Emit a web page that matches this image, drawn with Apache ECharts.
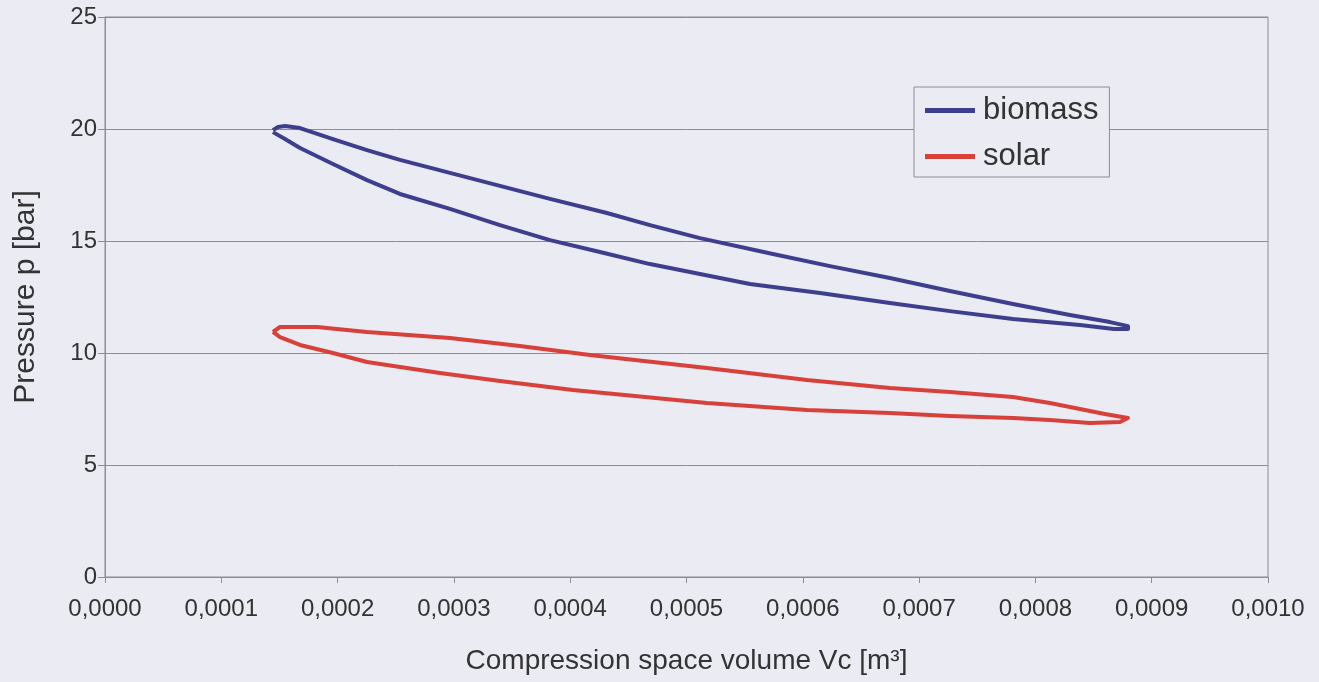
<!DOCTYPE html>
<html>
<head>
<meta charset="utf-8">
<script src="https://cdn.jsdelivr.net/npm/echarts@6/dist/echarts.min.js"></script>
<style>
html,body{margin:0;padding:0;background:#ebebf3;}
#c{width:1319px;height:682px;}
</style>
</head>
<body>
<div id="c"></div>
<script>
// x: compression space volume Vc [m³], y: pressure p [bar]
const biomassX = [1.444e-4,1.487e-4,1.548e-4,1.677e-4,1.960e-4,2.253e-4,2.536e-4,2.966e-4,3.396e-4,3.826e-4,4.316e-4,4.686e-4,5.116e-4,5.743e-4,6.234e-4,6.749e-4,7.265e-4,7.807e-4,8.297e-4,8.641e-4,8.796e-4,
  8.796e-4,8.676e-4,8.383e-4,7.807e-4,7.265e-4,6.749e-4,6.148e-4,5.546e-4,5.116e-4,4.686e-4,4.256e-4,3.826e-4,3.396e-4,2.966e-4,2.536e-4,2.253e-4,1.960e-4,1.677e-4,1.548e-4,1.444e-4];
const biomassY = [19.95,20.09,20.13,20.04,19.55,19.06,18.62,18.04,17.46,16.88,16.25,15.71,15.13,14.42,13.88,13.35,12.77,12.19,11.70,11.38,11.20,
  11.07,11.07,11.25,11.52,11.87,12.23,12.68,13.08,13.53,13.97,14.51,15.04,15.71,16.43,17.10,17.72,18.44,19.15,19.55,19.86];
const solarX = [1.444e-4,1.505e-4,1.823e-4,2.253e-4,2.966e-4,3.568e-4,4.170e-4,5.176e-4,6.036e-4,6.749e-4,7.265e-4,7.807e-4,8.125e-4,8.383e-4,8.598e-4,8.796e-4,
  8.727e-4,8.469e-4,8.125e-4,7.807e-4,7.265e-4,6.749e-4,6.036e-4,5.176e-4,4.024e-4,3.396e-4,2.880e-4,2.253e-4,1.960e-4,1.677e-4,1.505e-4,1.444e-4];
const solarY = [10.94,11.16,11.16,10.94,10.67,10.31,9.91,9.33,8.79,8.44,8.26,8.04,7.77,7.50,7.28,7.10,
  6.92,6.88,7.01,7.10,7.19,7.32,7.46,7.77,8.35,8.75,9.11,9.60,10.00,10.36,10.71,10.94];
const seriesNames = ['biomass','solar'];
const xTitle = 'Compression space volume Vc [m³]';
const yTitle = 'Pressure p [bar]';

const pairs = (xs, ys) => xs.map((x, i) => [x, ys[i]]);
const chart = echarts.init(document.getElementById('c'));
const font = '"Liberation Sans", Arial, sans-serif';
chart.setOption({
  backgroundColor: '#ebebf3',
  animation: false,
  textStyle: {fontFamily: font},
  grid: {left: 105, right: 51, top: 17, bottom: 105, show: true, borderColor: '#8c8c94', borderWidth: 1},
  legend: {
    data: seriesNames,
    orient: 'vertical',
    left: 914, top: 87,
    padding: [8, 11, 5, 11],
    itemGap: 15,
    itemWidth: 50, itemHeight: 5,
    icon: 'rect',
    borderColor: '#8c8c94', borderWidth: 1,
    backgroundColor: '#ebebf3',
    textStyle: {fontSize: 31, color: '#333', fontFamily: font, padding: [0, 0, 0, 3]}
  },
  xAxis: {
    type: 'value', min: 0, max: 0.001, interval: 0.0001,
    name: xTitle, nameLocation: 'middle', nameGap: 70,
    nameTextStyle: {fontSize: 28, color: '#333', fontFamily: font},
    axisLine: {show: true, lineStyle: {color: '#8c8c94'}},
    axisTick: {show: true, inside: false, length: 6, lineStyle: {color: '#8c8c94'}},
    axisLabel: {fontSize: 24, color: '#333', margin: 20, fontFamily: font,
      formatter: v => v.toFixed(4).replace('.', ',')},
    splitLine: {show: false}
  },
  yAxis: {
    type: 'value', min: 0, max: 25, interval: 5,
    name: yTitle, nameLocation: 'middle', nameGap: 64, nameRotate: 90,
    nameTextStyle: {fontSize: 30, color: '#333', fontFamily: font},
    axisLine: {show: true, lineStyle: {color: '#8c8c94'}},
    axisTick: {show: true, inside: false, length: 7, lineStyle: {color: '#8c8c94'}},
    axisLabel: {fontSize: 24, color: '#333', margin: 8, fontFamily: font},
    splitLine: {show: true, lineStyle: {color: '#8c8c94', width: 1}}
  },
  series: [
    {name: seriesNames[0], type: 'line', data: pairs(biomassX, biomassY), showSymbol: false, symbol: 'none',
     lineStyle: {color: '#3d3f8e', width: 4, join: 'round'}, itemStyle: {color: '#3d3f8e'}},
    {name: seriesNames[1], type: 'line', data: pairs(solarX, solarY), showSymbol: false, symbol: 'none',
     lineStyle: {color: '#d8403a', width: 4, join: 'round'}, itemStyle: {color: '#d8403a'}}
  ]
});
</script>
</body>
</html>
